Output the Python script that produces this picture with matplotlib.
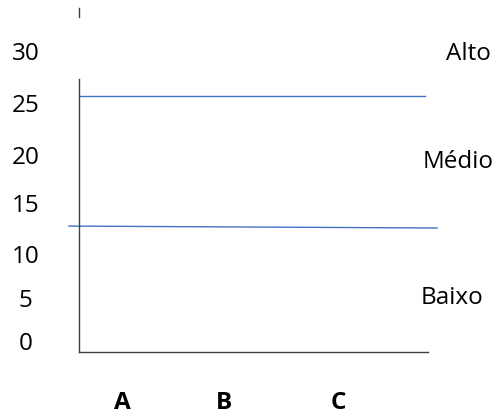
import matplotlib
matplotlib.use('Agg')
import matplotlib.pyplot as plt

plt.rcParams['font.family'] = ['Open Sans', 'DejaVu Sans']

# tick values on the left (drawn as text, as in the original sketch)
yticks = [0, 5, 10, 15, 20, 25, 30]
# categories along the bottom
categories = ['A', 'B', 'C']
# level bands
levels = ['Alto', 'Médio', 'Baixo']
# the two dividing lines (left value, right value)
upper_line = [25.0, 25.0]
lower_line = [11.5, 11.3]

# where the hand-placed labels sit (the sketch is not evenly spaced)
ytick_pos = [-0.75, 3.75, 8.3, 13.6, 18.6, 24.0, 29.35]
cat_pos = [0.44, 1.45, 2.60]
level_x = [3.91, 3.80, 3.74]
level_y = [29.4, 18.2, 4.0]

fig = plt.figure(figsize=(5, 4.17), dpi=100)
ax = fig.add_axes([0.158, 0.156, 0.698, 0.655])
ax.set_xlim(0, 3.5)
ax.set_ylim(-1.56, 26.78)
ax.set_xticks([])
ax.set_yticks([])
ax.spines['top'].set_visible(False)
ax.spines['right'].set_visible(False)
for s in ['left', 'bottom']:
	ax.spines[s].set_color('#404040')
	ax.spines[s].set_linewidth(1.0)

# stray tick above the axis
ax.plot([0, 0], [33.2, 34.15], color='#404040', lw=1.0, clip_on=False)

# dividing lines
ax.plot([0, 3.47], upper_line, color='#4472C4', lw=1.0, clip_on=False)
ax.plot([-0.10, 3.59], lower_line, color='#4472C4', lw=1.0, clip_on=False)

for v, y in zip(yticks, ytick_pos):
	ax.text(-0.535, y, str(v), ha='center', va='center', fontsize=17.5, clip_on=False)

for name, x in zip(categories, cat_pos):
	ax.text(x, -6.85, name, ha='center', va='center', fontsize=17.5,
		fontweight='bold', clip_on=False)

for name, x, y in zip(levels, level_x, level_y):
	ax.text(x, y, name, ha='center', va='center', fontsize=17.5, clip_on=False)

fig.savefig('out.png', dpi=100)
